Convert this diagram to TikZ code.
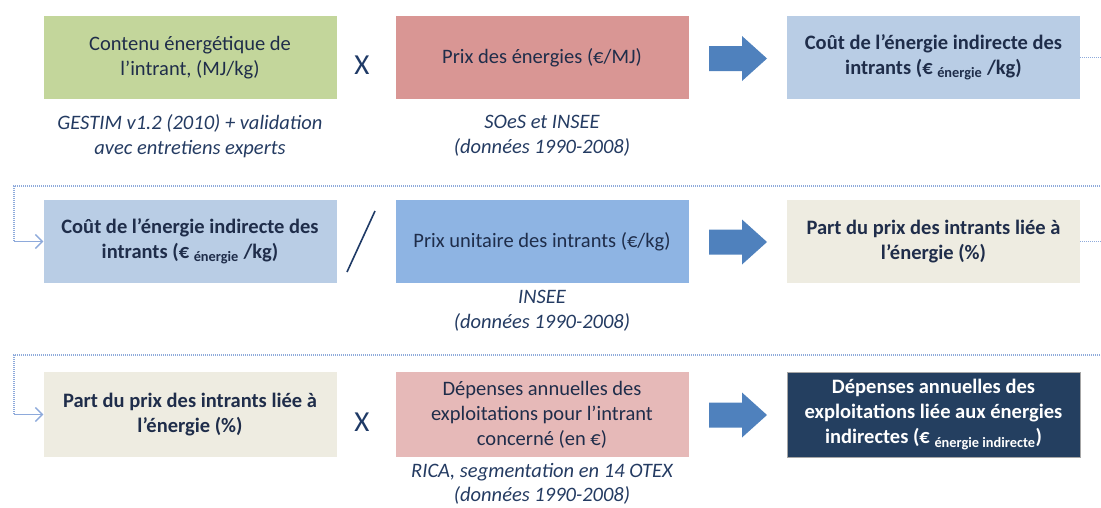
\documentclass[tikz,border=0pt]{standalone}
\usepackage{fontspec}
\setmainfont{Carlito}
\usetikzlibrary{arrows.meta,calc}
\definecolor{txt}{HTML}{1F2D4A}
\definecolor{captxt}{HTML}{243B62}
\definecolor{gfill}{HTML}{C3D69B}
\definecolor{rfill}{HTML}{D99694}
\definecolor{lbfill}{HTML}{B9CDE5}
\definecolor{mbfill}{HTML}{8EB4E3}
\definecolor{beige}{HTML}{EEECE1}
\definecolor{pink}{HTML}{E6B9B8}
\definecolor{navy}{HTML}{243F60}
\definecolor{arrowc}{HTML}{4F81BD}
\definecolor{linkc}{HTML}{8EAADB}
\definecolor{opc}{HTML}{1F3A66}
\newcommand{\blockarr}[1]{%
  \fill[arrowc] ($(#1)+(0,-12.5)$) -- ++(33,0) -- ++(0,-10) -- ++(25,22.5) -- ++(-25,22.5) -- ++(0,-10) -- ++(-33,0) -- cycle;}
\begin{document}
\begin{tikzpicture}[x=1pt,y=-1pt,
  box/.style={rectangle, inner sep=0pt, minimum width=293pt, minimum height=83pt, align=center,
    font=\fontsize{20.5}{25}\selectfont, text=txt},
  boldbox/.style={box, font=\fontsize{20.5}{25}\selectfont\bfseries},
  captext/.style={align=center, inner sep=0pt, font=\fontsize{20.5}{25}\selectfont\itshape, text=captxt},
  opx/.style={inner sep=0pt, font=\fontsize{29}{29}\selectfont, text=opc},
  link/.style={draw=linkc, line width=1.5pt, dash pattern=on 1.2pt off 0.8pt, -{Straight Barb[length=7pt,width=14pt,line width=1.3pt]}},
  linkout/.style={draw=linkc, line width=1.5pt, dash pattern=on 1.2pt off 0.8pt}
]
\useasboundingbox (0,0) rectangle (1101,507);
\clip (0,0) rectangle (1101,507);

% row 1
\node[box, fill=gfill] (b1) at (190,57.5) {Contenu énergétique de\\l’intrant, (MJ/kg)};
\node[box, fill=rfill] (b2) at (542,57.5) {Prix des énergies (€/MJ)};
\node[boldbox, fill=lbfill] (b3) at (933.5,57.5) {Coût de l’énergie indirecte des\\intrants (€ \textsubscript{énergie} /kg)};
\node[captext] (c1) at (190,136) {GESTIM v1.2 (2010) + validation\\avec entretiens experts};
\node[captext] (c2) at (542,136) {SOeS et INSEE\\(données 1990-2008)};
\node[opx] (x1) at (362,65) {X};
\coordinate (a1) at (709,58.5);
\blockarr{a1}

% row 2
\node[boldbox, fill=lbfill] (b4) at (190,241.5) {Coût de l’énergie indirecte des\\intrants (€ \textsubscript{énergie} /kg)};
\node[box, fill=mbfill] (b5) at (542,241.5) {Prix unitaire des intrants (€/kg)};
\node[boldbox, fill=beige] (b6) at (933.5,241.5) {Part du prix des intrants liée à\\l’énergie (\%)};
\node[captext] (c5) at (542,311) {INSEE\\(données 1990-2008)};
\coordinate (s1) at (347,272);
\coordinate (s2) at (375,211);
\draw[opc, line width=1.6pt] (s1) -- (s2);
\coordinate (a2) at (709,242);
\blockarr{a2}

% row 3
\node[boldbox, fill=beige, minimum height=85pt] (b7) at (190,414.5) {Part du prix des intrants liée à\\l’énergie (\%)};
\node[box, fill=pink, minimum height=85pt] (b8) at (542,414.5) {Dépenses annuelles des\\exploitations pour l’intrant\\concerné (en €)};
\node[boldbox, fill=navy, draw=gray!70, line width=0.6pt, minimum height=85pt, text=white] (b9) at (933.5,414.5) {Dépenses annuelles des\\exploitations liée aux énergies\\indirectes (€ \textsubscript{énergie indirecte})};
\node[captext, font=\fontsize{20.5}{23.5}\selectfont\itshape] (c8) at (542,484) {RICA, segmentation en 14 OTEX\\(données 1990-2008)};
\node[opx] (x2) at (362,422) {X};
\coordinate (a3) at (709,415);
\blockarr{a3}

% links
\draw[linkout] (b3.east) -- ++(40,0);
\draw[link] (1110,186) -- (14,186) |- (b4.west);
\draw[linkout] (b6.east) -- ++(40,0);
\draw[link] (1110,355) -- (14,355) |- (b7.west);
\end{tikzpicture}
\end{document}
